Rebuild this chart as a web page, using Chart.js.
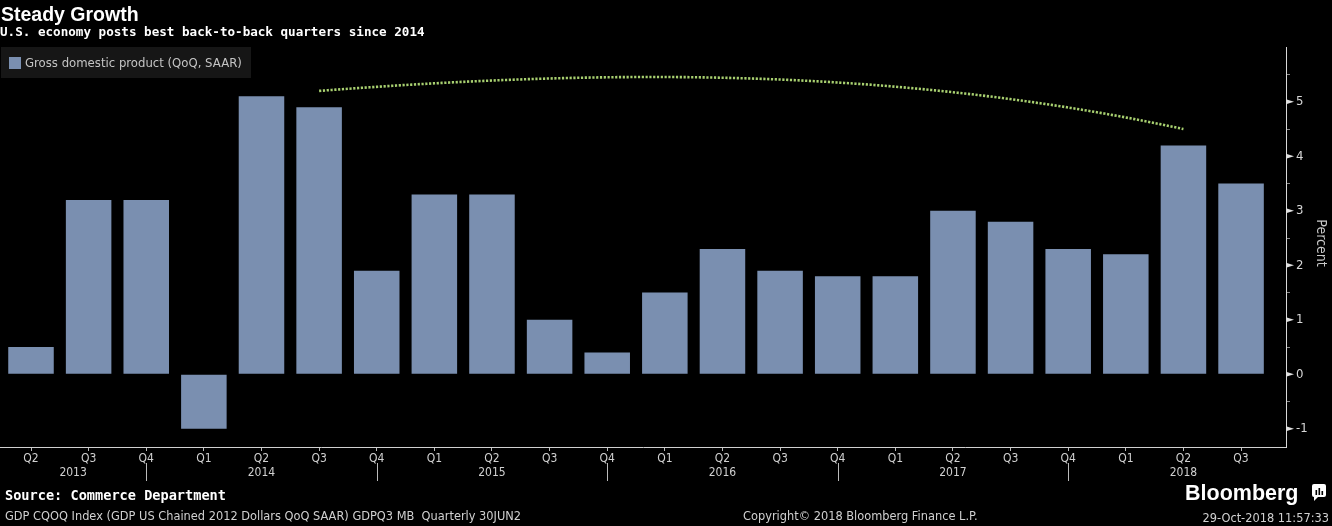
<!DOCTYPE html>
<html><head><meta charset="utf-8">
<script src="https://cdn.jsdelivr.net/npm/chart.js@4/dist/chart.umd.min.js"></script>
<style>html,body{margin:0;padding:0;background:#000;overflow:hidden}#wrap{width:1332px;height:526px;position:relative}</style>
</head><body><div id="wrap"><canvas id="c" width="1332" height="526"></canvas></div>
<script>
// ---- data ----
const quarters = ['Q2','Q3','Q4','Q1','Q2','Q3','Q4','Q1','Q2','Q3','Q4','Q1','Q2','Q3','Q4','Q1','Q2','Q3','Q4','Q1','Q2','Q3'];
const years = ['2013','2014','2015','2016','2017','2018'];
const gdp = [0.5,3.2,3.2,-1.0,5.1,4.9,1.9,3.3,3.3,1.0,0.4,1.5,2.3,1.9,1.8,1.8,3.0,2.8,2.3,2.2,4.2,3.5];
const yTickValues = [-1,-0.5,0,0.5,1,1.5,2,2.5,3,3.5,4,4.5,5,5.5];
const seriesName = 'Gross domestic product (QoQ, SAAR)';
// annotation arc control points [quarter index, percent]
const arcCtrl = [[5,5.2],[10,5.6],[15,5.64],[20,4.5]];
const titleText = 'Steady Growth';
const subtitleText = 'U.S. economy posts best back-to-back quarters since 2014';
const sourceText = 'Source: Commerce Department';
const footerText = 'GDP CQOQ Index (GDP US Chained 2012 Dollars QoQ SAAR) GDPQ3 MB  Quarterly 30JUN2';
const copyrightText = 'Copyright\u00A9 2018 Bloomberg Finance L.P.';
const dateText = '29-Oct-2018 11:57:33';

const BAR = '#7a8fb0';
const NARROW = "'DejaVu Sans Condensed','Liberation Sans Narrow',sans-serif";
const SANS = "'DejaVu Sans',sans-serif";
const MONO = "'DejaVu Sans Mono',monospace";

const deco = {
  id:'deco',
  beforeDraw(chart){
    const c=chart.ctx; c.save(); c.fillStyle='#000'; c.fillRect(0,0,chart.width,chart.height); c.restore();
  },
  afterDraw(chart){
    const c=chart.ctx, x=chart.scales.x, y=chart.scales.y, ca=chart.chartArea;
    c.save();
    // arc annotation
    const P=arcCtrl.map(p=>[x.getPixelForValue(p[0]), y.getPixelForValue(p[1])]);
    c.setLineDash([2.2,1.6]); c.lineWidth=2.6; c.strokeStyle='#a8d070';
    c.beginPath(); c.moveTo(P[0][0],P[0][1]);
    c.bezierCurveTo(P[1][0],P[1][1],P[2][0],P[2][1],P[3][0],P[3][1]); c.stroke();
    c.setLineDash([]);
    // major y tick wedges
    c.fillStyle='#e0e0e0';
    yTickValues.filter(v=>Number.isInteger(v)).forEach(v=>{
      const py=y.getPixelForValue(v);
      c.beginPath(); c.moveTo(ca.right,py-2.5); c.lineTo(ca.right+8,py); c.lineTo(ca.right,py+2.5); c.closePath(); c.fill();
    });
    // extend x axis line to left edge
    c.strokeStyle='#d0d0d0'; c.lineWidth=1;
    c.beginPath(); c.moveTo(0,ca.bottom+0.5); c.lineTo(ca.left+1,ca.bottom+0.5); c.stroke();
    // year separators and labels
    const seps=[]; quarters.forEach((q,i)=>{ if(q==='Q4') seps.push(i); });
    c.strokeStyle='#bbbbbb';
    seps.forEach(i=>{ const px=Math.round(x.getPixelForValue(i))+0.5; c.beginPath(); c.moveTo(px,463); c.lineTo(px,481); c.stroke(); });
    c.fillStyle='#d0d0d0'; c.font='12px '+NARROW; c.textAlign='center'; c.textBaseline='middle';
    years.forEach((yr,k)=>{
      const s = k===0 ? x.min : seps[k-1];
      const e = k<seps.length ? seps[k] : seps[k-1]+4;
      c.fillText(yr, x.getPixelForValue((s+e)/2), 473);
    });
    // Percent label
    c.save(); c.translate(1321,243); c.rotate(Math.PI/2);
    c.font='14px '+NARROW; c.fillStyle='#c8c8c8'; c.textAlign='center'; c.textBaseline='middle';
    c.fillText('Percent',0,0); c.restore();
    // legend
    c.fillStyle='#161616'; c.fillRect(1,47,250,31);
    c.fillStyle=BAR; c.fillRect(9,57,12,12);
    c.fillStyle='#c4c4c4'; c.font='13px '+NARROW; c.textAlign='left'; c.textBaseline='middle';
    c.fillText(seriesName,25,63.5);
    // titles
    c.fillStyle='#ffffff'; c.textBaseline='alphabetic';
    c.font="bold 19.5px 'Liberation Sans',Arial,sans-serif"; c.fillText(titleText,1,21);
    c.font='bold 12.6px '+MONO; c.fillText(subtitleText,0,36);
    c.font='bold 13.6px '+MONO; c.fillText(sourceText,5,500);
    // footer
    c.fillStyle='#d0d0d0'; c.font='11.4px '+SANS; c.textBaseline='middle';
    c.fillText(footerText,5,517);
    c.fillText(copyrightText,743,517);
    c.textAlign='right'; c.fillText(dateText,1329,519);
    // Bloomberg logo
    c.fillStyle='#ffffff'; c.textAlign='left'; c.textBaseline='alphabetic';
    c.font="bold 21.5px 'Liberation Sans',Arial,sans-serif"; c.fillText('Bloomberg',1185,500);
    c.beginPath(); c.roundRect(1312,484,14,13,2); c.fill();
    c.beginPath(); c.moveTo(1314,496); c.lineTo(1319,496); c.lineTo(1314,501); c.closePath(); c.fill();
    c.fillStyle='#000';
    c.fillRect(1315.5,490,1.6,5); c.fillRect(1318.5,488,1.6,7); c.fillRect(1321.5,491,1.6,4);
    c.restore();
  }
};

new Chart(document.getElementById('c'), {
  type:'bar',
  data:{ datasets:[{ label:seriesName, data:gdp.map((v,i)=>({x:i,y:v})), backgroundColor:BAR, borderWidth:0, barPercentage:0.79, categoryPercentage:1 }]},
  options:{
    responsive:false, animation:false, devicePixelRatio:1,
    layout:{ padding:{ top:47.3, left:0, right:0, bottom:0 } },
    plugins:{ legend:{display:false}, tooltip:{enabled:false}, title:{display:false} },
    scales:{
      x:{ type:'linear', position:'bottom', min:-0.538, max:21.78, offset:false,
          afterFit(s){ s.height=79; },
          afterBuildTicks(s){ s.ticks = quarters.map((q,i)=>({value:i})); },
          ticks:{ callback:(v)=>quarters[v]||'', autoSkip:false, maxRotation:0, color:'#d0d0d0', font:{family:NARROW,size:12}, padding:1 },
          grid:{ offset:false, drawOnChartArea:false, drawTicks:true, tickLength:4, color:'#bbbbbb' },
          border:{ display:true, color:'#d0d0d0', width:1 } },
      y:{ type:'linear', position:'right', min:-1.335, max:6,
          afterFit(s){ s.width=46; },
          afterBuildTicks(s){ s.ticks = yTickValues.map(v=>({value:v})); },
          ticks:{ callback:(v)=>Number.isInteger(v)?String(v):'', color:'#d8d8d8', font:{family:NARROW,size:13}, padding:6 },
          grid:{ drawOnChartArea:false, drawTicks:true, tickLength:4, color:(ctx)=>Number.isInteger(ctx.tick&&ctx.tick.value)?'rgba(0,0,0,0)':'#888888' },
          border:{ display:true, color:'#d8d8d8', width:1 } }
    }
  },
  plugins:[deco]
});
</script></body></html>
